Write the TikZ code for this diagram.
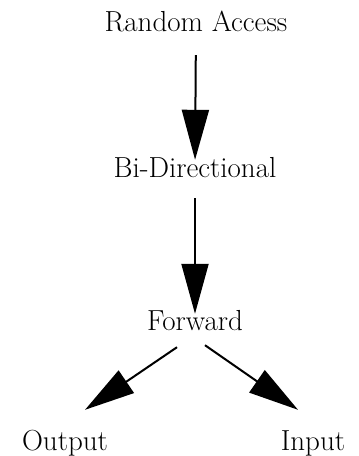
\documentclass[tikz,border=0pt]{standalone}
\usepackage{tikz}
\usetikzlibrary{arrows.meta, positioning}

\begin{document}
\begin{tikzpicture}[x=1pt, y=-1pt, >={Triangle[length=50pt, width=27pt]},
		level/.style={inner sep=0pt, text height=20pt, text depth=6pt, font=\fontsize{29}{32}\selectfont},
		flow/.style={->, line width=2pt}]
			% Page
			\useasboundingbox (0,0) rectangle (359,456);
			
			% Levels
			\node[level] (ra) at (196,24) {Random Access};
			\node[level] (bi) at (195,170) {Bi-Directional};
			\node[level] (fwd) at (195,323) {Forward};
			\node[level] (out) at (65,443) {Output};
			\node[level] (in) at (313,443) {Input};
			
			% Arrows down the chain
			\draw[flow, shorten <=18pt, shorten >=-3pt] (ra) -- (bi);
			\draw[flow, shorten <=15pt, shorten >=-4pt] (bi) -- (fwd);
			
			% Split below Forward
			\draw[flow] ([xshift=-18pt, yshift=-11pt]fwd.south) -- ([xshift=20pt, yshift=20pt]out.north);
			\draw[flow] ([xshift=10pt, yshift=-9pt]fwd.south) -- ([xshift=-15pt, yshift=20pt]in.north);
			
		\end{tikzpicture}
\end{document}
